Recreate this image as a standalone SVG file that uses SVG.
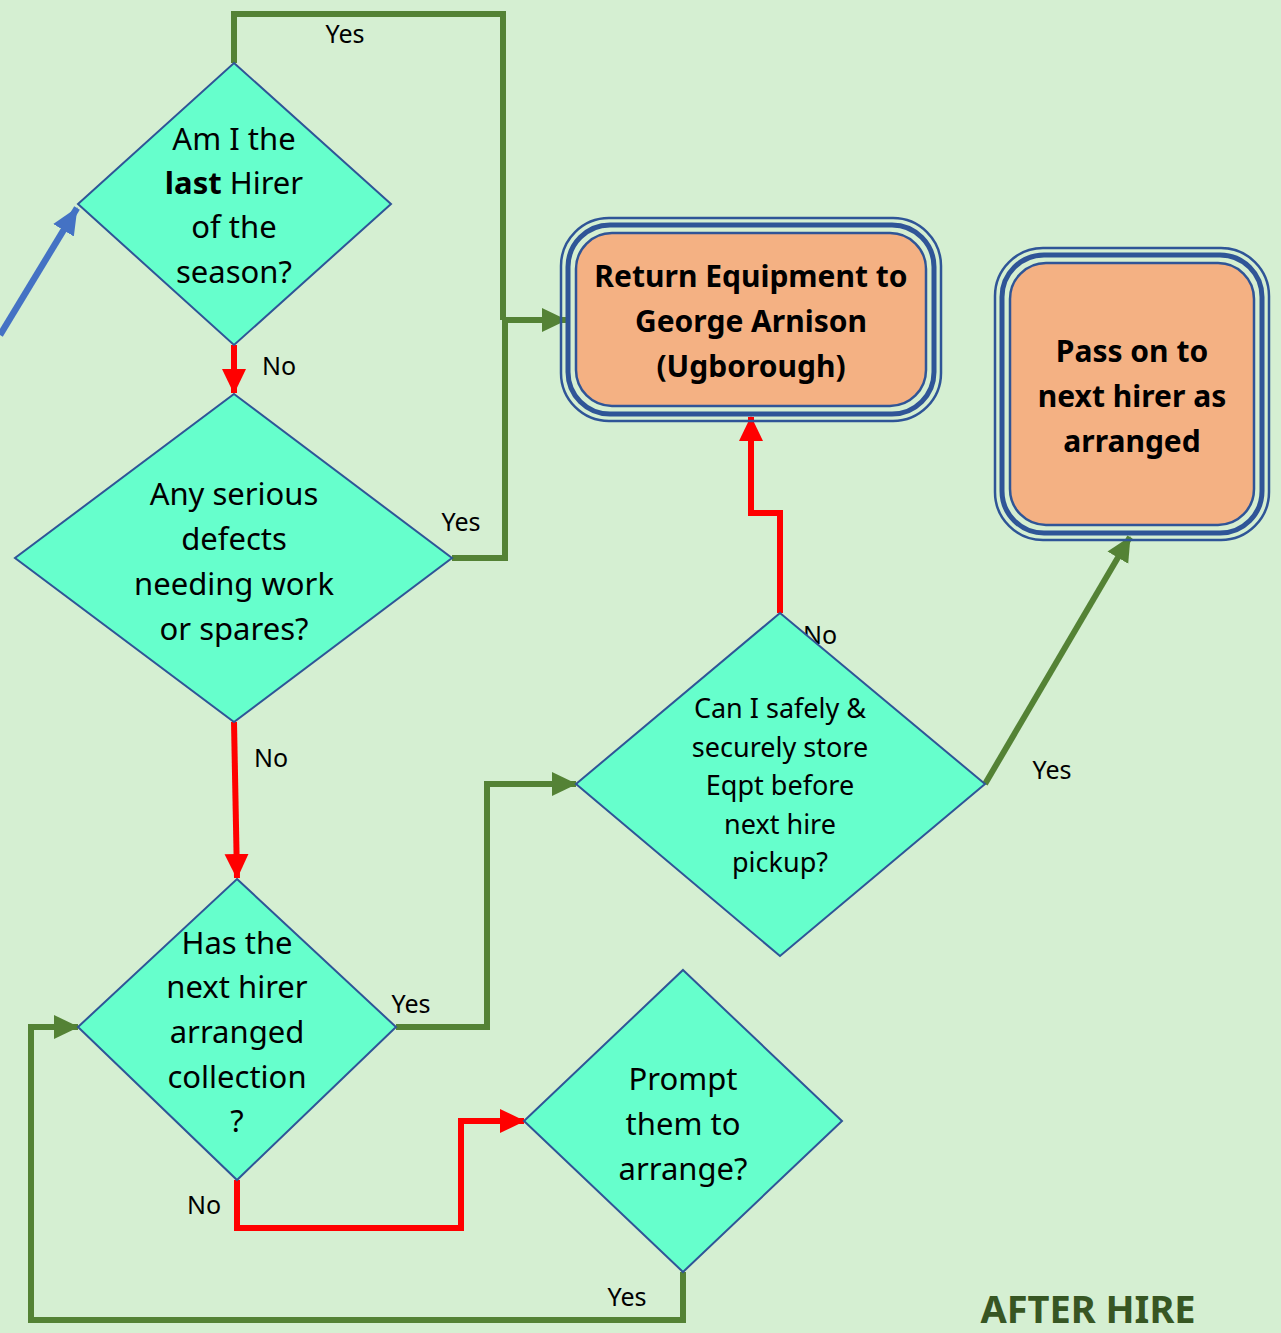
<svg xmlns="http://www.w3.org/2000/svg" width="1281" height="1333" viewBox="0 0 1281 1333">
<style>
.d{fill:#66FFCC;stroke:#2F5597;stroke-width:2}
.t{font-family:"Noto Sans","Open Sans",sans-serif;font-size:31px;fill:#000;text-anchor:middle}
.ts{font-size:27px}
.b{font-family:"Noto Sans","Open Sans",sans-serif;font-size:30px;font-weight:bold;fill:#000;text-anchor:middle}
.l{font-family:"Noto Sans","Open Sans",sans-serif;font-size:25px;fill:#000;text-anchor:middle}
.g{fill:none;stroke:#548235;stroke-width:6}
.r{fill:none;stroke:#FF0000;stroke-width:6}
.o1{fill:none;stroke:#2F5597;stroke-width:2.5}
.o2{fill:none;stroke:#2F5597;stroke-width:5}
.o3{fill:#F4B183;stroke:#2F5597;stroke-width:2.5}
</style>
<defs>
<marker id="ag" markerUnits="userSpaceOnUse" markerWidth="26" markerHeight="26" refX="24" refY="13" orient="auto"><path d="M0,1 L25,13 L0,25 Z" fill="#548235"/></marker>
<marker id="ar" markerUnits="userSpaceOnUse" markerWidth="26" markerHeight="26" refX="24" refY="13" orient="auto"><path d="M0,1 L25,13 L0,25 Z" fill="#FF0000"/></marker>
<marker id="ab" markerUnits="userSpaceOnUse" markerWidth="28" markerHeight="28" refX="26" refY="14" orient="auto"><path d="M0,2 L27,14 L0,26 Z" fill="#4472C4"/></marker>
</defs>
<rect width="1281" height="1333" fill="#D5EFD2"/>
<g id="connectors">
<path d="M0,335 L77,208" fill="none" stroke="#4472C4" stroke-width="6.5" marker-end="url(#ab)"/>
<path class="g" d="M234,63 V14 H503 V320"/>
<path class="g" d="M452,558 H505 V320 H566" marker-end="url(#ag)"/>
<path class="r" d="M234,345 V393" marker-end="url(#ar)"/>
<path class="r" d="M234,722 L237,878" marker-end="url(#ar)"/>
<path class="g" d="M396,1027 H487 V784 H576" marker-end="url(#ag)"/>
<path class="r" d="M237,1180 V1228 H461 V1121 H524" marker-end="url(#ar)"/>
<path class="g" d="M683,1272 V1320 H31 V1027 H78" marker-end="url(#ag)"/>
<path class="r" d="M780,613 V513 H751 V417" marker-end="url(#ar)"/>
<path class="g" d="M985,784 L1130,537" marker-end="url(#ag)"/>
<text class="l" x="345" y="43">Yes</text>
<text class="l" x="279" y="375">No</text>
<text class="l" x="461" y="531">Yes</text>
<text class="l" x="271" y="767">No</text>
<text class="l" x="411" y="1013">Yes</text>
<text class="l" x="204" y="1214">No</text>
<text class="l" x="627" y="1306">Yes</text>
<text class="l" x="820" y="644">No</text>
<text class="l" x="1052" y="779">Yes</text>
</g>
<g id="q1">
<polygon class="d" points="234,63 391,204 234,345 78,204"/>
<text class="t" x="234" y="150">Am I the</text>
<text class="t" x="234" y="194"><tspan font-weight="bold">last</tspan> Hirer</text>
<text class="t" x="234" y="238">of the</text>
<text class="t" x="234" y="283">season?</text>
</g>
<g id="q2">
<polygon class="d" points="234,394 452,558 234,722 15,558"/>
<text class="t" x="234" y="505">Any serious</text>
<text class="t" x="234" y="550">defects</text>
<text class="t" x="234" y="595">needing work</text>
<text class="t" x="234" y="640">or spares?</text>
</g>
<g id="q3">
<polygon class="d" points="237,879 396,1027 237,1180 78,1027"/>
<text class="t" x="237" y="954">Has the</text>
<text class="t" x="237" y="998">next hirer</text>
<text class="t" x="237" y="1043">arranged</text>
<text class="t" x="237" y="1088">collection</text>
<text class="t" x="237" y="1132">?</text>
</g>
<g id="q4">
<polygon class="d" points="780,613 985,784 780,956 576,784"/>
<text class="t ts" x="780" y="718">Can I safely &amp;</text>
<text class="t ts" x="780" y="757">securely store</text>
<text class="t ts" x="780" y="795">Eqpt before</text>
<text class="t ts" x="780" y="834">next hire</text>
<text class="t ts" x="780" y="872">pickup?</text>
</g>
<g id="q5">
<polygon class="d" points="683,970 842,1121 683,1272 524,1121"/>
<text class="t" x="683" y="1090">Prompt</text>
<text class="t" x="683" y="1135">them to</text>
<text class="t" x="683" y="1180">arrange?</text>
</g>
<g id="returnBox">
<rect class="o1" x="561" y="218" width="380" height="203" rx="48"/>
<rect class="o2" x="568" y="225" width="366" height="189" rx="42"/>
<rect class="o3" x="576" y="233" width="350" height="173" rx="36"/>
<text class="b" x="751" y="287">Return Equipment to</text>
<text class="b" x="751" y="332">George Arnison</text>
<text class="b" x="751" y="377">(Ugborough)</text>
</g>
<g id="passBox">
<rect class="o1" x="995" y="248" width="274" height="292" rx="48"/>
<rect class="o2" x="1002" y="255" width="260" height="278" rx="42"/>
<rect class="o3" x="1010" y="263" width="244" height="262" rx="36"/>
<text class="b" x="1132" y="362">Pass on to</text>
<text class="b" x="1132" y="407">next hirer as</text>
<text class="b" x="1132" y="452">arranged</text>
</g>
<text x="1088" y="1323" font-family="Noto Sans,Open Sans,sans-serif" font-size="38" font-weight="bold" fill="#375623" text-anchor="middle">AFTER HIRE</text>
</svg>
